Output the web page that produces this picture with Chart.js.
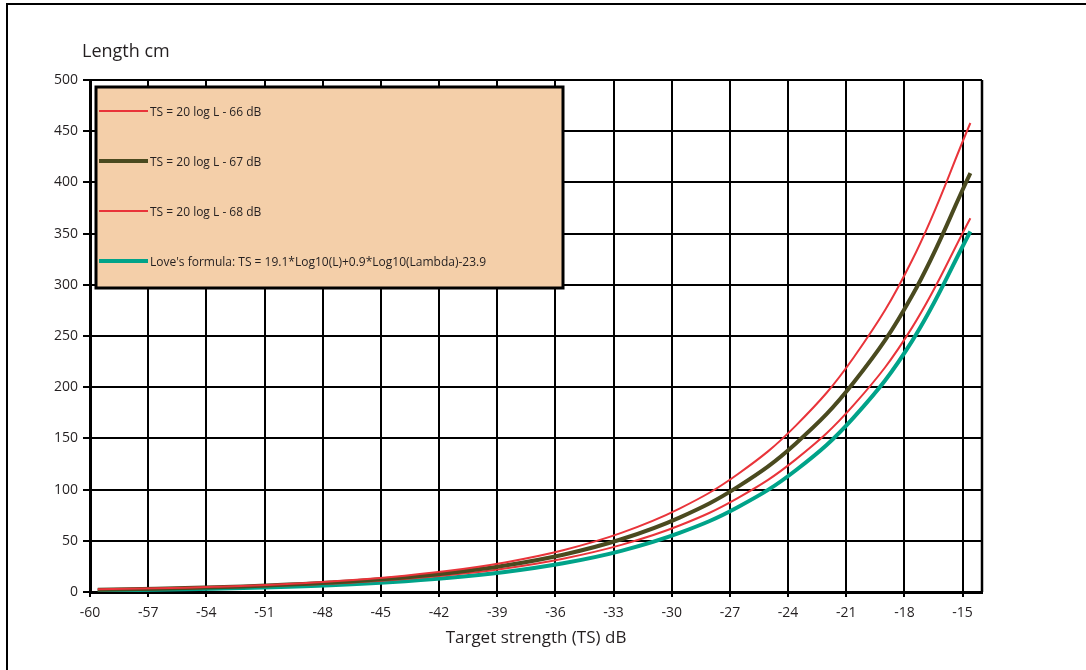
<!DOCTYPE html>
<html>
<head>
<meta charset="utf-8">
<script src="https://cdn.jsdelivr.net/npm/chart.js@4.4.1/dist/chart.umd.min.js"></script>
<style>
  html, body { margin: 0; padding: 0; background: #fff; }
  #wrap { width: 1086px; height: 670px; position: relative; }
</style>
</head>
<body>
<div id="wrap"><canvas id="fish"></canvas></div>
<script>
// target strength (dB) where the curves were sampled
const tsValues = [-59.6, -56.6, -53.6, -50.6, -47.6, -44.6, -41.6, -38.6, -35.6, -32.6, -29.6, -26.6, -23.6, -20.6, -17.6, -14.6];

// length in cm
const len66 = [2.6, 3.6, 5.1, 7.2, 10.3, 14.5, 20.5, 28.9, 40.8, 57.7, 81.4, 115.0, 162.5, 229.5, 324.2, 458];
const len67 = [2.3, 3.2, 4.6, 6.5, 9.2, 12.9, 18.3, 25.8, 36.4, 51.5, 72.7, 102.7, 145.1, 205.0, 289.5, 409];
const len68 = [2.1, 2.9, 4.1, 5.8, 8.2, 11.5, 16.3, 23.0, 32.5, 46.0, 64.9, 91.7, 129.5, 182.9, 258.4, 365];
const lenLove = [1.5, 2.2, 3.2, 4.6, 6.6, 9.5, 13.6, 19.5, 28.0, 40.2, 57.7, 82.8, 118.9, 170.8, 245.2, 352];

const seriesLabels = [
    'TS = 20 log L - 66 dB',
    'TS = 20 log L - 67 dB',
    'TS = 20 log L - 68 dB',
    "Love's formula: TS = 19.1*Log10(L)+0.9*Log10(Lambda)-23.9"
];

const FONT = '"Open Sans", "Noto Sans", sans-serif';
const INK = '#231f20';

function pts(ys) {
    return ys.map((y, i) => ({ x: tsValues[i], y: y }));
}

// frame, y title and the legend box inside the plot
const extras = {
    id: 'extras',
    beforeDatasetsDraw(chart) {
        const c = chart.ctx;
        const a = chart.chartArea;
        const bx = a.left + 6, by = a.top + 7, bw = 467, bh = 201;
        c.save();
        c.fillStyle = '#f4cfa9';
        c.fillRect(bx, by, bw, bh);
        c.lineWidth = 3;
        c.strokeStyle = '#000';
        c.strokeRect(bx, by, bw, bh);
        c.font = '12px ' + FONT;
        c.textBaseline = 'middle';
        c.fillStyle = INK;
        chart.data.datasets.forEach((ds, i) => {
            const y = by + 24 + i * 50;
            c.beginPath();
            c.strokeStyle = ds.borderColor;
            c.lineWidth = ds.borderWidth;
            c.moveTo(bx + 3, y);
            c.lineTo(bx + 52, y);
            c.stroke();
            c.fillText(ds.label, bx + 54, y + 2);
        });
        c.restore();
    },
    afterDraw(chart) {
        const c = chart.ctx;
        const a = chart.chartArea;
        c.save();
        // right edge of the plot
        c.strokeStyle = '#000';
        c.lineWidth = 2.5;
        c.beginPath();
        c.moveTo(a.right, a.top);
        c.lineTo(a.right, a.bottom);
        c.stroke();
        // outer frame
        c.lineWidth = 2;
        c.beginPath();
        c.moveTo(7, chart.height);
        c.lineTo(7, 4);
        c.lineTo(chart.width, 4);
        c.stroke();
        c.fillStyle = INK;
        c.font = '18px ' + FONT;
        c.textBaseline = 'alphabetic';
        c.fillText('Length cm', 82, 57);
        c.restore();
    }
};

new Chart(document.getElementById('fish'), {
    type: 'line',
    data: {
        datasets: [
            { label: seriesLabels[0], data: pts(len66), borderColor: '#e9343a', borderWidth: 2 },
            { label: seriesLabels[1], data: pts(len67), borderColor: '#4a4a1f', borderWidth: 4 },
            { label: seriesLabels[2], data: pts(len68), borderColor: '#e9343a', borderWidth: 2 },
            { label: seriesLabels[3], data: pts(lenLove), borderColor: '#00a389', borderWidth: 4 }
        ]
    },
    options: {
        responsive: true,
        maintainAspectRatio: false,
        animation: false,
        parsing: false,
        elements: {
            point: { radius: 0 },
            line: { tension: 0.4, fill: false }
        },
        layout: { padding: { left: 40, top: 80, right: 104, bottom: 18 } },
        plugins: {
            legend: { display: false },
            tooltip: { enabled: false }
        },
        scales: {
            x: {
                type: 'linear',
                min: -60,
                max: -14,
                afterFit: s => { s.height = 60; },
                grid: { color: '#000', lineWidth: 2, tickLength: 5 },
                border: { color: '#000', width: 3 },
                ticks: {
                    stepSize: 3,
                    includeBounds: false,
                    padding: 8,
                    maxRotation: 0,
                    color: INK,
                    font: { family: FONT, size: 14 }
                },
                title: {
                    display: true,
                    text: 'Target strength (TS) dB',
                    color: INK,
                    font: { family: FONT, size: 17 },
                    padding: { top: 0, bottom: 4 }
                }
            },
            y: {
                min: 0,
                max: 500,
                afterFit: s => { s.width = 50; },
                grid: { color: '#000', lineWidth: 2, tickLength: 7 },
                border: { color: '#000', width: 3 },
                ticks: {
                    stepSize: 50,
                    padding: 5,
                    color: INK,
                    font: { family: FONT, size: 14 }
                }
            }
        }
    },
    plugins: [extras]
});
</script>
</body>
</html>
